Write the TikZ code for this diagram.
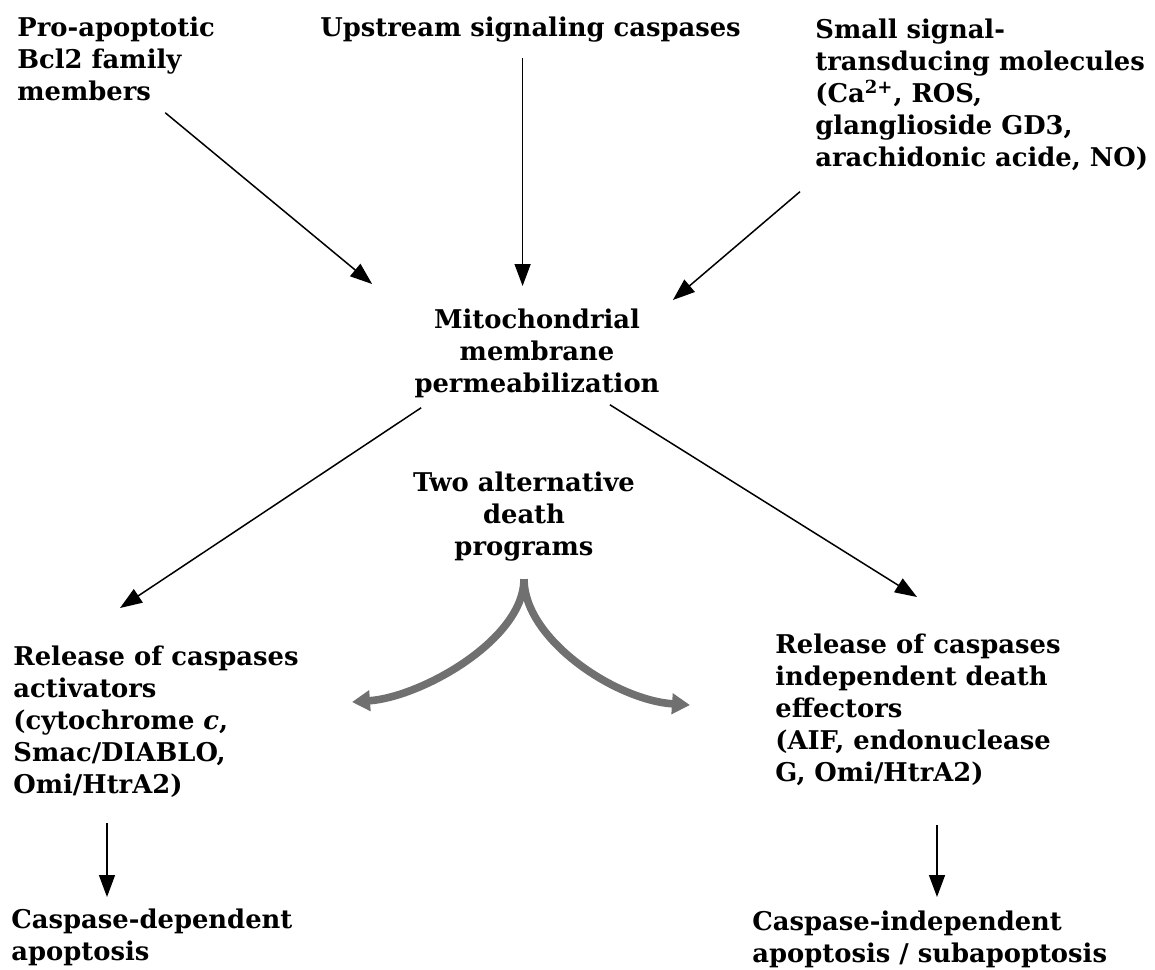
\documentclass[tikz,border=0pt]{standalone}
\usepackage{fontspec}
\setmainfont{DejaVu Serif}
\usetikzlibrary{arrows.meta,calc}
\begin{document}
\begin{tikzpicture}
[x=0.5pt,y=-0.5pt,
every node/.append style={font=\bfseries\fontsize{12.9}{16}\selectfont,inner sep=0pt},
txt/.style={anchor=north west,align=left},
mid/.style={anchor=north,align=center},
flow/.style={-{Triangle[length=11pt,width=8pt]},line width=0.75pt},
branch/.style={-{Triangle[length=9pt,width=10pt]},line width=3.8pt,draw=black!56}]
\useasboundingbox (0,0) rectangle (1155,969);
\node[txt] (bcl) at (17,16) {Pro-apoptotic\\Bcl2 family\\members};
\node[txt] (ups) at (320,16) {Upstream signaling caspases};
\node[txt] (small) at (815,18) {Small signal-\\transducing molecules\\(Ca\textsuperscript{2+}, ROS,\\glanglioside GD3,\\arachidonic acide, NO)};
\node[mid] (mito) at (537,308) {Mitochondrial\\membrane\\permeabilization};
\node[mid] (two) at (524,471) {Two alternative\\death\\programs};
\node[txt] (relA) at (13,645) {Release of caspases\\activators\\(cytochrome \textit{c},\\Smac/DIABLO,\\Omi/HtrA2)};
\node[txt] (relI) at (775,633) {Release of caspases\\independent death\\effectors\\(AIF, endonuclease\\G, Omi/HtrA2)};
\node[txt] (depA) at (11,908) {Caspase-dependent\\apoptosis};
\node[txt] (indA) at (752,910) {Caspase-independent\\apoptosis / subapoptosis};
% inputs
\draw[flow] ([xshift=-25pt,yshift=-6pt]bcl.south east) -- ([xshift=-21pt,yshift=12pt]mito.north west);
\draw[flow,shorten <=8pt,shorten >=11pt] ($(ups.south)+(-8,0)$) -- ($(ups.south |- mito.north)+(-8,0)$);
\draw[flow] ([xshift=-7.5pt,yshift=-10.5pt]small.south west) -- ([xshift=6.5pt,yshift=4pt]mito.north east);
% outputs
\draw[flow] ([xshift=3.5pt,yshift=-5pt]mito.south west) -- ([xshift=53.5pt,yshift=18.5pt]relA.north west);
\draw[flow] ([xshift=-25pt,yshift=-3.5pt]mito.south east) -- ([xshift=71pt,yshift=18pt]relI.north west);
\draw[flow] ([xshift=47pt,yshift=-13pt]relA.south west) -- ([xshift=48pt,yshift=5.5pt]depA.north west);
\draw[flow] ([xshift=81pt,yshift=-19.5pt]relI.south west) -- ([xshift=92.5pt,yshift=6.5pt]indA.north west);
% two programs
\coordinate (altL) at (352,702);
\coordinate (altR) at (690,705);
\draw[branch] ([yshift=-9pt]two.south) .. controls +(0,60) and +(70,-5) .. (altL);
\draw[branch] ([yshift=-9pt]two.south) .. controls +(0,60) and +(-75,-5) .. (altR);
\end{tikzpicture}
\end{document}
